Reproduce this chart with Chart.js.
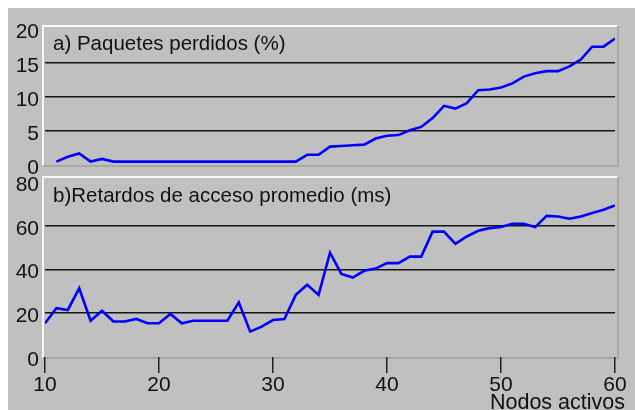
<!DOCTYPE html>
<html><head><meta charset="utf-8">
<script src="https://cdn.jsdelivr.net/npm/chart.js@4/dist/chart.umd.min.js"></script>
<style>
html,body{margin:0;padding:0;background:#fff;width:635px;height:410px;overflow:hidden}
#bg{position:absolute;left:8px;top:8px;width:627px;height:402px;background:#c0c0c0}
canvas{position:absolute;left:0;top:0}
</style></head><body>
<div id="bg"></div>
<canvas id="c1" width="635" height="410"></canvas>
<canvas id="c2" width="635" height="410"></canvas>
<script>
// Nodos activos (x)
const nodos = [10,11,12,13,14,15,16,17,18,19,20,21,22,23,24,25,26,27,28,29,30,31,32,33,34,35,36,37,38,39,40,41,42,43,44,45,46,47,48,49,50,51,52,53,54,55,56,57,58,59,60];
// a) Paquetes perdidos (%)
const perdidos = [null,0.5,1.2,1.7,0.5,0.9,
  0.5,0.5,0.5,0.5,0.5,0.5,0.5,0.5,0.5,0.5,0.5,0.5,0.5,0.5,0.5,0.5,0.5,
  1.5,1.5,2.7,2.8,2.9,3.0,3.9,4.3,4.4,5.1,5.6,6.9,8.7,8.3,9.1,11.0,11.1,11.4,12.0,13.0,13.5,13.8,13.8,14.5,15.5,17.4,17.4,18.6];
// b) Retardos de acceso promedio (ms)
const retardos = [15.4,22.3,21.5,31.4,16.6,21.1,16.2,16.2,17.4,15.4,15.4,19.7,15.4,16.6,16.6,16.6,16.6,25.0,11.6,13.9,16.9,17.4,28.4,33.0,28.4,47.7,38.0,36.3,39.4,40.4,42.9,42.9,45.9,45.9,57.3,57.3,51.7,55.1,57.7,58.9,59.4,60.9,60.9,59.4,64.5,64.2,63.2,64.2,65.8,67.3,69.3];
const xTicks = [10,20,30,40,50,60];
const yTicksA = [0,5,10,15,20];
const yTicksB = [0,20,40,60,80];
const titleA = 'a) Paquetes perdidos (%)';
const titleB = 'b)Retardos de acceso promedio (ms)';
const xTitle = 'Nodos activos';

const FONT = '"Liberation Sans", Arial, sans-serif';

const panelPlugin = {
  id: 'panel',
  beforeDraw(chart, args, o) {
    const {ctx, chartArea: a} = chart;
    const L = a.left - 2, R = a.right + 3, T = a.top - o.topGap, B = a.bottom + 1;
    ctx.save();
    ctx.lineWidth = 2;
    ctx.strokeStyle = '#f6f6f6';
    ctx.beginPath(); ctx.moveTo(L, B); ctx.lineTo(L, T); ctx.lineTo(R, T); ctx.stroke();
    ctx.strokeStyle = '#aaa99e';
    ctx.beginPath(); ctx.moveTo(R, T); ctx.lineTo(R, B); ctx.lineTo(L, B); ctx.stroke();
    ctx.restore();
  },
  afterDraw(chart, args, o) {
    const {ctx, chartArea: a} = chart;
    ctx.save();
    ctx.fillStyle = '#111';
    ctx.font = '20.5px ' + FONT;
    ctx.textBaseline = 'alphabetic';
    ctx.textAlign = 'left';
    ctx.fillText(o.title, a.left + 8, a.top + o.titleDy);
    if (o.xTitle) {
      ctx.font = '21.5px ' + FONT;
      ctx.textAlign = 'right';
      ctx.fillText(o.xTitle, a.right + 10, 409);
    }
    ctx.restore();
  }
};

function yScale(ticks, lo, hi) {
  return {
    min: lo, max: hi,
    afterFit(s) { s.width = 45; },
    afterBuildTicks(s) { s.ticks = ticks.map(v => ({value: v})); },
    border: {display: false},
    grid: {
      drawTicks: false,
      color: c => (c.tick && (c.tick.value === lo || c.tick.value === hi)) ? 'rgba(0,0,0,0)' : '#151515',
      lineWidth: 1.6
    },
    ticks: {padding: 6, labelOffset: 3, autoSkip: false, color: '#111', font: {family: FONT, size: 21}}
  };
}

function mk(id, data, yticks, ymax, padTop, padBottom, showX, opts) {
  return new Chart(document.getElementById(id), {
    type: 'line',
    data: {
      datasets: [{
        data: nodos.map((n, i) => ({x: n, y: data[i]})),
        borderColor: '#0000ff',
        borderWidth: 2.6,
        pointRadius: 0,
        tension: 0,
        spanGaps: false
      }]
    },
    options: {
      responsive: false,
      animation: false,
      devicePixelRatio: 1,
      layout: {padding: {left: 0, right: 20, top: padTop, bottom: padBottom}},
      plugins: {legend: {display: false}, tooltip: {enabled: false}, panel: opts},
      scales: {
        x: {
          type: 'linear', min: 10, max: 60,
          display: showX,
          afterFit(s) { s.height = showX ? 53 : 0; },
          afterBuildTicks(s) { s.ticks = xTicks.map(v => ({value: v})); },
          border: {display: false},
          grid: {drawOnChartArea: false, drawTicks: true, tickLength: 16, color: '#222', lineWidth: 1.5},
          ticks: {padding: 0, autoSkip: false, color: '#111', font: {family: FONT, size: 21}, maxRotation: 0}
        },
        y: yScale(yticks, 0, ymax)
      }
    },
    plugins: [panelPlugin]
  });
}

mk('c1', perdidos, yTicksA, 20, 29, 245, false, {topGap: 3, title: titleA, titleDy: 21});
mk('c2', retardos, yTicksB, 80, 182, 0, true, {topGap: 5, title: titleB, titleDy: 20, xTitle: xTitle});
</script>
</body></html>
